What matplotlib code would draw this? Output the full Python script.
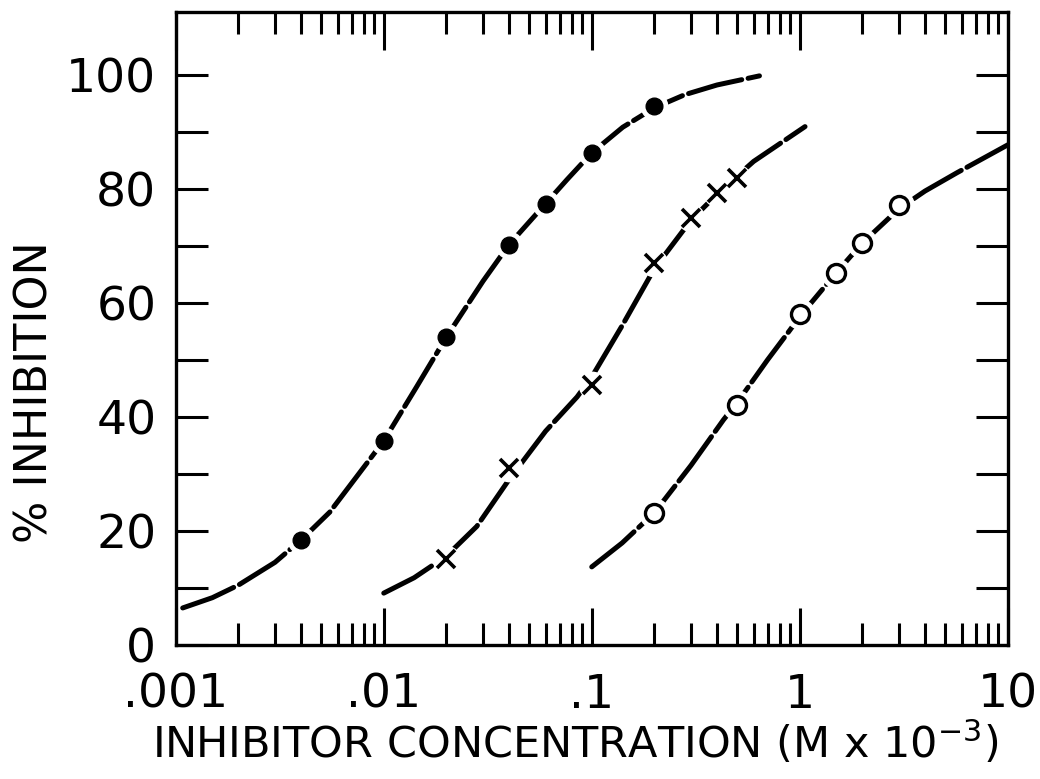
import numpy as np
import matplotlib
matplotlib.use("Agg")
import matplotlib.pyplot as plt
from matplotlib.ticker import LogLocator, FixedLocator, NullFormatter

# puntos medidos (concentracion, % inhibicion)
filled_x = [0.004, 0.01, 0.02, 0.04, 0.06, 0.1, 0.2]
filled_y = [18.4, 35.8, 54.0, 70.2, 77.4, 86.3, 94.6]

cross_x = [0.02, 0.04, 0.1, 0.2, 0.3, 0.4, 0.5]
cross_y = [15.1, 31.0, 45.6, 67.0, 74.9, 79.3, 81.9]

open_x = [0.2, 0.5, 1.0, 1.5, 2.0, 3.0]
open_y = [23.2, 42.1, 58.0, 65.3, 70.5, 77.2]

# curvas ajustadas
fit1_x = [0.00108, 0.0015, 0.002, 0.003, 0.004, 0.0055, 0.0074, 0.01, 0.0144, 0.02,
          0.03, 0.04, 0.06, 0.076, 0.1, 0.141, 0.2, 0.28, 0.4, 0.64]
fit1_y = [6.5, 8.3, 10.5, 14.5, 18.4, 23.3, 29.5, 35.8, 45.3, 54.0,
          63.8, 70.2, 77.4, 81.6, 86.3, 90.8, 94.2, 96.5, 98.2, 99.8]

fit2_x = [0.01, 0.014, 0.02, 0.028, 0.04, 0.06, 0.085, 0.1, 0.14, 0.2, 0.3, 0.42,
          0.6, 1.06]
fit2_y = [9.1, 11.8, 15.6, 20.8, 29.0, 37.5, 43.5, 47.0, 56.0, 66.0, 74.5, 79.8,
          84.8, 90.9]

fit3_x = [0.1, 0.14, 0.2, 0.3, 0.43, 0.5, 0.7, 0.9, 1.0, 1.5, 2.0, 3.0, 4.0, 5.69, 10.0]
fit3_y = [13.7, 17.9, 23.2, 31.5, 39.5, 42.5, 50.0, 55.3, 57.6, 65.3, 70.5, 76.5,
          79.6, 82.8, 87.7]

xticks = [0.001, 0.01, 0.1, 1, 10]
xticklabels = [".001", ".01", ".1", "1", "10"]
yticks = [0, 20, 40, 60, 80, 100]

plt.rcParams['font.family'] = ['DejaVu Sans']

fig = plt.figure(figsize=(10.4, 7.79), dpi=100)
ax = fig.add_axes([0.169, 0.172, 0.8, 0.8126])

dash = (0, (11, 1.3))
lw = 3.6
for fx, fy in [(fit1_x, fit1_y), (fit2_x, fit2_y), (fit3_x, fit3_y)]:
    ax.plot(fx, fy, color='black', lw=lw, linestyle=dash, solid_capstyle='round',
            dash_capstyle='round', solid_joinstyle='round', zorder=2)

# halo blanco alrededor de los marcadores
ax.plot(filled_x, filled_y, 'o', ms=19, color='white', zorder=3)
ax.plot(filled_x, filled_y, 'o', ms=12, color='black', zorder=4)

ax.plot(cross_x, cross_y, 'o', ms=19, color='white', zorder=3)
ax.plot(cross_x, cross_y, 'x', ms=12.5, mew=2.6, color='black', zorder=4)

ax.plot(open_x, open_y, 'o', ms=21, color='white', zorder=3)
ax.plot(open_x, open_y, 'o', ms=13, mfc='white', mec='black', mew=2.4, zorder=4)

ax.set_xscale('log')
ax.set_xlim(0.001, 10)
ax.set_ylim(0, 111)

ax.set_xticks(xticks)
ax.set_xticklabels(xticklabels)
ax.xaxis.set_minor_locator(LogLocator(base=10, subs=np.arange(2, 10)))
ax.xaxis.set_minor_formatter(NullFormatter())
ax.set_yticks(yticks)
ax.yaxis.set_minor_locator(FixedLocator(np.arange(10, 100, 20)))

ax.tick_params(axis='x', which='major', direction='in', length=27, width=2.2,
               top=True, labelsize=34, pad=20)
ax.tick_params(axis='x', which='minor', direction='in', length=16, width=2.2, top=True)
ax.tick_params(axis='y', which='both', direction='in', length=23, width=2.2,
               right=True, labelsize=34, pad=14)

for s in ax.spines.values():
    s.set_linewidth(2.4)

ax.set_xlabel(r"INHIBITOR CONCENTRATION (M x 10$^{-3}$)", fontsize=31)
ax.set_ylabel("% INHIBITION", fontsize=32)
ax.xaxis.set_label_coords(0.48, -0.118)
ax.yaxis.set_label_coords(-0.143, 0.40)

fig.savefig("out.png", dpi=100)
